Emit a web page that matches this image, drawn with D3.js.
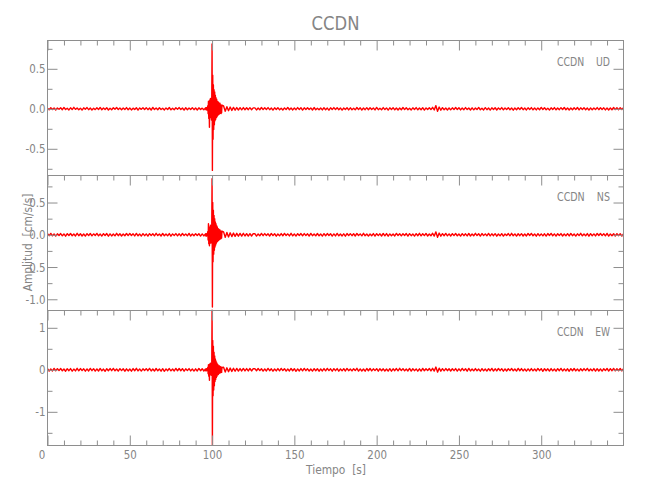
<!DOCTYPE html>
<html>
<head>
<meta charset="utf-8">
<script src="https://cdn.jsdelivr.net/npm/d3@7"></script>
<style>
  html, body { margin: 0; padding: 0; background: #ffffff; }
  svg { display: block; }
</style>
</head>
<body>
<div id="chart"></div>
<script>
// ---------------- DATA ----------------
// Sampling of the traces (seconds): pre-event, event window, coda + post-event
const preStart = 0, preStep = 1;
const eventStart = 96, eventStep = 0.2;
const postStart = 107, postStep = 1;
const unit = 0.001; // sample values below are in milli cm/s/s

const components = ["UD", "NS", "EW"];
const station = "CCDN";

// UD component
const udPre = [
  5,-12,14,-8,11,-15,9,-6,13,-11,
  16,-9,7,-14,12,-10,18,-7,10,-13,
  8,-16,12,-5,15,-11,9,-14,6,-10,
  13,-8,17,-12,10,-9,14,-15,7,-11,
  12,-6,16,-10,9,-13,11,-8,15,-12,
  10,-14,8,-9,13,-16,11,-7,12,-10,
  14,-11,9,-15,17,-8,10,-12,13,-9,
  7,-14,11,-10,16,-13,8,-11,12,-7,
  15,-9,10,-16,13,-12,9,-8,14,-11,
  11,-15,12,-9,8,-13];
const udEvent = [
  12,-10,15,-13,9,-16,14,
  40,-60,95,-120,70,-230,110,-90,130,-110,80,-140,100,
  810,-770,420,-380,300,-260,240,-200,210,-150,170,-130,140,-110,120,-100,95,-85,90,-75,80,-70,65,-60,70,-55,50,-60,45,-50,45];
const udPost = [
  35,-30,27,-24,22,-20,18,-17,16,-15,14,-13,15,-12,13,-11,14,-12,12,
  11,-14,9,-12,16,-10,13,-8,15,-11,
  10,-16,12,-9,14,-13,8,-15,11,-10,
  17,-12,9,-14,10,-11,15,-8,13,-16,
  12,-10,14,-9,11,-15,16,-12,8,-13,
  10,-14,13,-11,9,-17,12,-10,15,-8,
  14,-12,11,-16,10,-9,13,-14,12,-11,
  8,-13,16,-10,12,-15,9,-11,14,-12,
  13,-9,10,-14,17,-11,8,-12,15,-10,
  11,-16,12,-8,14,-13,10,-15,9,-12,
  16,-10,13,-11,8,-14,12,-9,15,-13,
  10,-12,14,-16,11,-9,13,-10,18,-15,
  40,-32,22,-18,14,-12,9,-15,11,-13,
  12,-10,16,-8,13,-14,10,-11,15,-9,
  9,-15,12,-13,11,-10,17,-12,8,-14,
  14,-11,10,-16,12,-9,13,-15,11,-8,
  15,-13,9,-10,14,-12,11,-17,10,-12,
  13,-8,16,-11,9,-14,12,-10,15,-13,
  10,-14,11,-12,17,-9,13,-11,8,-16,
  12,-10,15,-13,10,-11,14,-9,16,-12,
  11,-15,9,-12,13,-10,16,-14,12,-8,
  14,-12,10,-16,11,-13,9,-10,15,-11,
  13,-9,12,-14,10,-15,11,-12,16,-10,
  12,-11,14,-9,13];

// NS component
const nsPre = [
  18,-14,21,-17,12,-20,15,-11,19,-16,
  13,-22,17,-12,20,-15,11,-18,22,-14,
  16,-19,12,-21,18,-13,20,-17,14,-11,
  21,-16,13,-20,17,-12,19,-22,15,-18,
  12,-17,22,-14,16,-19,11,-15,20,-13,
  19,-12,15,-18,21,-16,13,-20,17,-14,
  14,-21,18,-11,16,-17,22,-13,12,-19,
  20,-15,11,-16,19,-22,14,-12,18,-17,
  15,-18,20,-13,12,-16,21,-19,13,-15,
  17,-12,16,-20,14,-18];
const nsEvent = [
  15,-18,12,-20,17,-14,19,
  50,-80,170,-140,90,-170,120,-100,150,-130,90,-110,120,
  870,-1120,500,-420,380,-300,300,-240,250,-190,200,-160,170,-130,140,-110,120,-100,100,-90,90,-80,80,-70,75,-65,60,-60,55,-50,55];
const nsPost = [
  45,-40,36,-33,30,-28,26,-24,23,-22,21,-20,22,-19,18,-21,17,-19,18,
  17,-20,13,-16,21,-14,18,-12,15,-19,
  20,-13,16,-22,12,-17,19,-15,21,-11,
  14,-18,22,-16,13,-20,17,-12,19,-15,
  18,-11,15,-19,21,-14,12,-17,20,-16,
  13,-21,17,-15,19,-12,16,-20,14,-18,
  21,-16,12,-18,15,-22,19,-13,17,-14,
  16,-19,20,-12,14,-17,22,-15,11,-20,
  12,-15,18,-21,17,-13,15,-19,20,-16,
  19,-22,14,-16,13,-18,21,-11,16,-17,
  15,-12,19,-20,18,-14,13,-21,17,-15,
  22,-17,16,-13,20,-19,12,-16,24,-20,
  45,-38,26,-22,18,-15,21,-17,14,-19,
  17,-13,20,-16,12,-21,18,-14,15,-18,
  20,-19,13,-15,22,-12,16,-20,19,-13,
  14,-16,21,-18,15,-14,17,-22,12,-17,
  18,-20,12,-13,19,-16,22,-15,14,-21,
  16,-14,17,-19,13,-18,20,-12,21,-15,
  13,-22,18,-16,14,-17,15,-20,19,-11,
  21,-15,14,-20,16,-12,18,-19,13,-17,
  17,-18,20,-14,12,-21,15,-13,22,-16,
  12,-16,19,-22,17,-15,14,-18,20,-12,
  19,-13,15,-17,21,-20,13,-14,16,-19,
  18,-14,17,-21,15];

// EW component
const ewPre = [
  25,-30,19,-27,33,-22,28,-18,31,-24,
  20,-34,26,-21,29,-32,17,-26,35,-23,
  30,-19,24,-33,21,-28,34,-20,27,-31,
  22,-29,32,-25,18,-35,26,-23,30,-21,
  33,-24,20,-31,28,-19,25,-34,23,-27,
  19,-32,29,-22,35,-26,21,-30,24,-18,
  28,-21,33,-27,20,-29,31,-24,19,-33,
  26,-35,22,-20,30,-25,18,-28,34,-22,
  31,-23,27,-32,24,-19,29,-26,21,-30,
  23,-28,32,-21,26,-29];
const ewEvent = [
  20,-25,18,-22,24,-19,21,
  60,-90,120,-150,100,-250,140,-110,160,-120,90,-130,110,
  1420,-1800,700,-620,560,-480,420,-380,330,-280,260,-230,210,-180,170,-150,140,-120,120,-110,100,-90,90,-80,80,-70,70,-65,60,-60,55];
const ewPost = [
  60,-54,48,-44,41,-38,36,-34,33,-31,30,-28,32,-27,29,-26,31,-28,27,
  27,-23,31,-19,25,-30,22,-28,33,-21,
  24,-32,20,-26,29,-24,34,-18,27,-31,
  19,-28,32,-22,26,-35,21,-27,30,-25,
  33,-20,24,-29,18,-31,28,-23,25,-34,
  22,-27,30,-25,34,-19,23,-32,28,-20,
  29,-33,21,-24,27,-28,32,-21,19,-26,
  25,-18,35,-30,22,-27,20,-33,31,-23,
  31,-26,23,-19,28,-34,26,-22,24,-29,
  20,-31,27,-33,24,-21,30,-25,35,-18,
  28,-24,19,-27,32,-30,25,-20,22,-32,
  23,-29,34,-22,26,-18,31,-28,36,-30,
  65,-55,38,-32,27,-24,30,-21,26,-28,
  26,-20,29,-31,23,-27,33,-19,25,-34,
  32,-28,21,-25,30,-22,18,-33,28,-24,
  19,-30,26,-21,34,-29,24,-26,31,-20,
  27,-33,22,-28,25,-19,32,-24,20,-30,
  34,-22,29,-26,18,-31,23,-27,30,-25,
  21,-27,31,-20,28,-35,26,-23,24,-29,
  30,-25,20,-32,27,-21,33,-28,22,-26,
  24,-34,28,-23,31,-26,19,-30,25,-22,
  29,-19,33,-27,21,-24,30,-31,26,-28,
  22,-30,25,-18,32,-29,27,-21,34,-25,
  26,-23,31,-27,24];

// Axis ranges and ticks
const timeRange = [0, 350];
const timeMajor = [0, 50, 100, 150, 200, 250, 300];
const timeMinor = [10,20,30,40,60,70,80,90,110,120,130,140,160,170,180,190,210,220,230,240,260,270,280,290,310,320,330,340];

const udRange = [-0.834, 0.854];
const udMajor = [-0.5, 0, 0.5];
const udMajorLabels = ["-0.5", "0.0", "0.5"];
const udMinor = [-0.75, -0.25, 0.25, 0.75];

const nsRange = [-1.174, 0.919];
const nsMajor = [-1.0, -0.5, 0, 0.5];
const nsMajorLabels = ["-1.0", "-0.5", "0.0", "0.5"];
const nsMinor = [-0.75, -0.25, 0.25, 0.75];

const ewRange = [-1.802, 1.412];
const ewMajor = [-1, 0, 1];
const ewMajorLabels = ["-1", "0", "1"];
const ewMinor = [-1.5, -0.5, 0.5];

const titleText = "CCDN";
const xTitle = "Tiempo  [s]";
const yTitle = "Amplitud  [cm/s/s]";

// ---------------- DRAWING ----------------
const W = 650, H = 500;
const left = 47.5, right = 623.5;
const panelTop = 40.5, panelH = 135;
const axisColor = "#8e8e8e";
const textColor = "#858585";
const font = "'DejaVu Sans','Liberation Sans',sans-serif";
const squeeze = 0.82;

const svg = d3.select("#chart").append("svg")
  .attr("width", W).attr("height", H)
  .style("background", "#fff");

const x = d3.scaleLinear().domain(timeRange).range([left, right]);

function buildTrace(pre, ev, post) {
  const pts = [];
  pre.forEach((v, i) => pts.push([preStart + i * preStep, v * unit]));
  ev.forEach((v, i) => pts.push([eventStart + i * eventStep, v * unit]));
  post.forEach((v, i) => pts.push([postStart + i * postStep, v * unit]));
  return pts;
}

function condense(sel, f) {
  const k = f || squeeze;
  sel.each(function () {
    const L = this.getComputedTextLength();
    if (L > 0) d3.select(this).attr("textLength", L * k).attr("lengthAdjust", "spacingAndGlyphs");
  });
}

const panels = [
  { comp: components[0], trace: buildTrace(udPre, udEvent, udPost), range: udRange, major: udMajor, labels: udMajorLabels, minor: udMinor },
  { comp: components[1], trace: buildTrace(nsPre, nsEvent, nsPost), range: nsRange, major: nsMajor, labels: nsMajorLabels, minor: nsMinor },
  { comp: components[2], trace: buildTrace(ewPre, ewEvent, ewPost), range: ewRange, major: ewMajor, labels: ewMajorLabels, minor: ewMinor }
];

function styleAxis(g) {
  g.select(".domain").remove();
  g.selectAll("line").attr("stroke", axisColor).attr("stroke-width", 1);
  g.selectAll("text").attr("fill", textColor).style("font-family", font).style("font-size", "12.5px");
}

panels.forEach((p, i) => {
  const top = panelTop + i * panelH;
  const bottom = top + panelH;
  const y = d3.scaleLinear().domain(p.range).range([bottom, top]);
  const g = svg.append("g");

  // trace
  const line = d3.line().x(d => x(d[0])).y(d => y(d[1]));
  g.append("path").datum(p.trace)
    .attr("d", line)
    .attr("fill", "none")
    .attr("stroke", "#ff0000")
    .attr("stroke-width", 1.4)
    .attr("stroke-linejoin", "round");

  // left axis: minor then major (ticks pointing inward)
  g.append("g").attr("transform", `translate(${left},0)`)
    .call(d3.axisLeft(y).tickValues(p.minor).tickSize(-5).tickFormat(""))
    .call(styleAxis);
  const ly = g.append("g").attr("transform", `translate(${left},0)`)
    .call(d3.axisLeft(y).tickValues(p.major).tickSize(-10).tickPadding(2)
      .tickFormat((d, k) => p.labels[k]))
    .call(styleAxis);
  ly.selectAll(".tick text").call(condense);
  // right axis
  g.append("g").attr("transform", `translate(${right},0)`)
    .call(d3.axisRight(y).tickValues(p.minor).tickSize(-5).tickFormat(""))
    .call(styleAxis);
  g.append("g").attr("transform", `translate(${right},0)`)
    .call(d3.axisRight(y).tickValues(p.major).tickSize(-10).tickFormat(""))
    .call(styleAxis);
  // top edge ticks pointing down
  g.append("g").attr("transform", `translate(0,${top})`)
    .call(d3.axisTop(x).tickValues(timeMinor).tickSize(-5).tickFormat(""))
    .call(styleAxis);
  g.append("g").attr("transform", `translate(0,${top})`)
    .call(d3.axisTop(x).tickValues(timeMajor).tickSize(-10).tickFormat(""))
    .call(styleAxis);

  // box
  g.append("rect")
    .attr("x", left).attr("y", top)
    .attr("width", right - left).attr("height", panelH)
    .attr("fill", "none").attr("stroke", axisColor).attr("stroke-width", 1);

  // component label (station + component, one text)
  g.append("text")
    .attr("x", 557).attr("y", top + 25.5)
    .attr("fill", textColor)
    .style("font-family", font).style("font-size", "13px")
    .style("white-space", "pre")
    .attr("textLength", 53).attr("lengthAdjust", "spacingAndGlyphs")
    .text(station + "    " + p.comp);

  // bottom axis for the last panel
  if (i === panels.length - 1) {
    g.append("g").attr("transform", `translate(0,${bottom})`)
      .call(d3.axisBottom(x).tickValues(timeMinor).tickSize(-5).tickFormat(""))
      .call(styleAxis);
    const xb = g.append("g").attr("transform", `translate(0,${bottom})`)
      .call(d3.axisBottom(x).tickValues(timeMajor).tickSize(-10).tickPadding(5).tickFormat(d3.format("d")))
      .call(styleAxis);
    xb.selectAll(".tick text").attr("dx", d => d === 0 ? -6 : 0).call(condense);
  }
});

// Titles
svg.append("text")
  .attr("x", (left + right) / 2).attr("y", 30)
  .attr("text-anchor", "middle")
  .attr("fill", textColor)
  .style("font-family", font).style("font-size", "20px")
  .text(titleText).call(condense);

svg.append("text")
  .attr("x", 336).attr("y", 474)
  .attr("text-anchor", "middle")
  .attr("fill", textColor)
  .style("font-family", font).style("font-size", "13px")
  .style("white-space", "pre")
  .text(xTitle).call(condense);

svg.append("text")
  .attr("transform", "translate(32,242.5) rotate(-90)")
  .attr("text-anchor", "middle")
  .attr("fill", textColor)
  .style("font-family", font).style("font-size", "13px")
  .style("white-space", "pre")
  .text(yTitle).call(condense);
</script>
</body>
</html>
